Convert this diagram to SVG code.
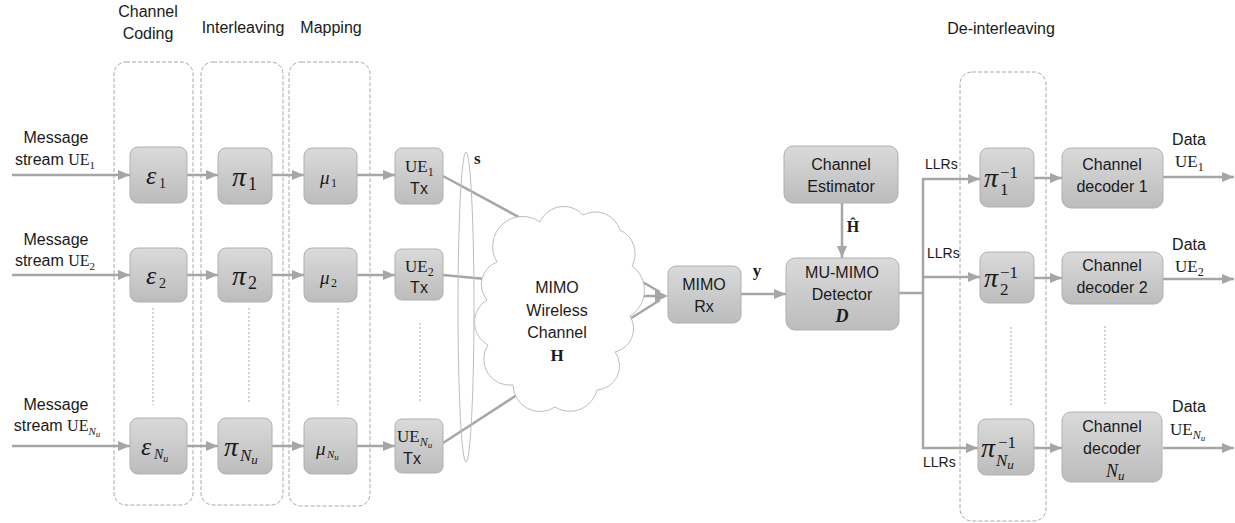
<svg xmlns="http://www.w3.org/2000/svg" width="1235" height="523" viewBox="0 0 1235 523">
  <defs>
    <linearGradient id="boxFill" x1="0" y1="0" x2="0" y2="1">
      <stop offset="0" stop-color="#dadada"/>
      <stop offset="1" stop-color="#bcbcbc"/>
    </linearGradient>
    <marker id="arrow" viewBox="0 0 12 10" refX="12" refY="5" markerWidth="12" markerHeight="10" markerUnits="userSpaceOnUse" orient="auto">
      <path d="M0,0 L12,5 L0,10 Z" fill="#a6a6a6"/>
    </marker>
  </defs>
  <style>
    .box { fill: url(#boxFill); stroke: #b0b0b0; stroke-width: 1; }
    .group { fill: none; stroke: #a8a8a8; stroke-width: 1; stroke-dasharray: 4 2; }
    .dots { stroke: #a8a8a8; stroke-width: 1; stroke-dasharray: 2 2; }
    .wire { fill: none; stroke: #a6a6a6; stroke-width: 2.5; }
    .arr { fill: none; stroke: #a6a6a6; stroke-width: 2.5; marker-end: url(#arrow); }
    .txt { font-family: "Liberation Sans", Arial, sans-serif; font-size: 16px; fill: #1a1a1a; text-anchor: middle; }
    .lbl { font-family: "Liberation Sans", Arial, sans-serif; font-size: 14px; fill: #1a1a1a; }
    .math { font-family: "Liberation Serif", "Times New Roman", serif; fill: #1a1a1a; }
    .it { font-style: italic; }
    .bf { font-weight: bold; }
  </style>

  <!-- stage headers -->
  <g id="headers" class="txt">
    <text x="148" y="17">Channel</text>
    <text x="148" y="39">Coding</text>
    <text x="243" y="33">Interleaving</text>
    <text x="331" y="33">Mapping</text>
    <text x="1001" y="34">De-interleaving</text>
  </g>

  <!-- dashed stage groups -->
  <g id="stage-coding"><rect class="group" x="114" y="62" width="79" height="443" rx="12"/></g>
  <g id="stage-interleaving"><rect class="group" x="201" y="62" width="82" height="443" rx="12"/></g>
  <g id="stage-mapping"><rect class="group" x="289" y="62" width="81" height="444" rx="12"/></g>
  <g id="stage-deinterleaving"><rect class="group" x="960" y="72" width="86" height="449" rx="12"/></g>

  <!-- ellipsis markers between rows -->
  <g id="ellipses">
    <line class="dots" x1="153" y1="308" x2="153" y2="405"/>
    <line class="dots" x1="249" y1="308" x2="249" y2="403"/>
    <line class="dots" x1="338" y1="308" x2="338" y2="405"/>
    <line class="dots" x1="420" y1="323" x2="420" y2="403"/>
    <line class="dots" x1="1011" y1="327" x2="1011" y2="405"/>
    <line class="dots" x1="1105" y1="326" x2="1105" y2="405"/>
  </g>

  <!-- connectors -->
  <g id="connectors">
    <!-- user inputs -->
    <line class="arr" x1="12" y1="175" x2="130" y2="175"/>
    <line class="arr" x1="12" y1="275" x2="130" y2="275"/>
    <line class="arr" x1="12" y1="446" x2="130" y2="446"/>
    <!-- encoder to interleaver -->
    <line class="arr" x1="187" y1="175" x2="218" y2="175"/>
    <line class="arr" x1="187" y1="275" x2="218" y2="275"/>
    <line class="arr" x1="187" y1="446" x2="218" y2="446"/>
    <!-- interleaver to mapper -->
    <line class="arr" x1="272" y1="175" x2="304" y2="175"/>
    <line class="arr" x1="272" y1="275" x2="304" y2="275"/>
    <line class="arr" x1="272" y1="446" x2="304" y2="446"/>
    <!-- mapper to transmitter -->
    <line class="arr" x1="357" y1="175" x2="395" y2="175"/>
    <line class="arr" x1="357" y1="275" x2="395" y2="275"/>
    <line class="arr" x1="357" y1="446" x2="395" y2="446"/>
    <!-- transmitters into channel -->
    <line class="wire" x1="443" y1="176" x2="539" y2="228"/>
    <line class="wire" x1="443" y1="275" x2="496" y2="280"/>
    <line class="wire" x1="443" y1="443" x2="520" y2="393"/>
    <!-- channel to receiver -->
    <line class="wire" x1="625" y1="272" x2="660" y2="292"/>
    <line class="wire" x1="625" y1="296" x2="660" y2="296"/>
    <line class="wire" x1="625" y1="322" x2="660" y2="300"/>
    <path d="M655,290 L668,296 L655,302 Z" fill="#a6a6a6"/>
    <!-- receiver to detector -->
    <line class="arr" x1="741" y1="294" x2="786" y2="294"/>
    <!-- channel estimate -->
    <line class="arr" x1="842" y1="203" x2="842" y2="258"/>
    <!-- detector LLR fan-out -->
    <polyline class="wire" points="899,293 923,293"/>
    <line class="wire" x1="923" y1="178" x2="923" y2="449"/>
    <line class="arr" x1="922" y1="179" x2="980" y2="179"/>
    <line class="arr" x1="922" y1="277" x2="980" y2="277"/>
    <line class="arr" x1="922" y1="448" x2="978" y2="448"/>
    <!-- de-interleaver to decoder -->
    <line class="arr" x1="1034" y1="178" x2="1062" y2="178"/>
    <line class="arr" x1="1034" y1="278" x2="1062" y2="278"/>
    <line class="arr" x1="1034" y1="448" x2="1062" y2="448"/>
    <!-- decoded outputs -->
    <line class="arr" x1="1163" y1="177" x2="1234" y2="177"/>
    <line class="arr" x1="1163" y1="279" x2="1234" y2="279"/>
    <line class="arr" x1="1163" y1="448" x2="1234" y2="448"/>
  </g>

  <!-- input labels -->
  <g id="inputs" class="txt">
    <text x="56" y="143">Message</text>
    <text x="55" y="165">stream <tspan class="math">UE</tspan><tspan class="math" font-size="11" dy="4">1</tspan></text>
    <text x="56" y="245">Message</text>
    <text x="55" y="266">stream <tspan class="math">UE</tspan><tspan class="math" font-size="11" dy="4">2</tspan></text>
    <text x="56" y="410">Message</text>
    <text x="57" y="431">stream <tspan class="math">UE</tspan><tspan class="math it" font-size="11" dy="4">N</tspan><tspan class="math it" font-size="9" dy="2">u</tspan></text>
  </g>

  <!-- channel encoders -->
  <g id="enc1"><rect class="box" x="130" y="147" width="57" height="56" rx="8"/>
    <text class="math it" x="146" y="184" font-size="26">ε</text><text class="math" x="159" y="188" font-size="14">1</text></g>
  <g id="enc2"><rect class="box" x="130" y="248" width="57" height="54" rx="8"/>
    <text class="math it" x="146" y="284" font-size="26">ε</text><text class="math" x="159" y="288" font-size="14">2</text></g>
  <g id="encN"><rect class="box" x="130" y="418" width="57" height="56" rx="8"/>
    <text class="math it" x="141" y="455" font-size="26">ε</text><text class="math it" x="154" y="459" font-size="14">N<tspan font-size="10" dy="3">u</tspan></text></g>

  <!-- interleavers -->
  <g id="int1"><rect class="box" x="218" y="148" width="54" height="56" rx="8"/>
    <text class="math it" x="232" y="186" font-size="28">π</text><text class="math" x="248" y="190" font-size="18">1</text></g>
  <g id="int2"><rect class="box" x="218" y="248" width="54" height="54" rx="8"/>
    <text class="math it" x="232" y="285" font-size="28">π</text><text class="math" x="248" y="289" font-size="18">2</text></g>
  <g id="intN"><rect class="box" x="218" y="418" width="54" height="56" rx="8"/>
    <text class="math it" x="224" y="456" font-size="28">π</text><text class="math it" x="240" y="461" font-size="17">N<tspan font-size="13" dy="3">u</tspan></text></g>

  <!-- symbol mappers -->
  <g id="map1"><rect class="box" x="304" y="148" width="53" height="56" rx="8"/>
    <text class="math it" x="320" y="184" font-size="19">μ</text><text class="math" x="331" y="187" font-size="12">1</text></g>
  <g id="map2"><rect class="box" x="304" y="248" width="53" height="54" rx="8"/>
    <text class="math it" x="320" y="284" font-size="19">μ</text><text class="math" x="331" y="287" font-size="12">2</text></g>
  <g id="mapN"><rect class="box" x="304" y="418" width="53" height="56" rx="8"/>
    <text class="math it" x="316" y="455" font-size="19">μ</text><text class="math it" x="327" y="458" font-size="11">N<tspan font-size="9" dy="2">u</tspan></text></g>

  <!-- transmitters -->
  <g id="tx1"><rect class="box" x="395" y="148" width="48" height="56" rx="7"/>
    <text class="math" x="405" y="172" font-size="17">UE<tspan font-size="12" dy="4">1</tspan></text>
    <text class="txt" x="419" y="194" font-size="15">Tx</text></g>
  <g id="tx2"><rect class="box" x="395" y="249" width="48" height="51" rx="7"/>
    <text class="math" x="405" y="272" font-size="17">UE<tspan font-size="12" dy="4">2</tspan></text>
    <text class="txt" x="419" y="293" font-size="15">Tx</text></g>
  <g id="txN"><rect class="box" x="395" y="419" width="48" height="54" rx="7"/>
    <text class="math" x="397" y="442" font-size="17">UE<tspan class="it" font-size="12" dy="4">N</tspan><tspan class="it" font-size="9" dy="2">u</tspan></text>
    <text class="txt" x="412" y="464" font-size="15">Tx</text></g>

  <!-- transmitted vector s -->
  <g id="svec">
    <ellipse cx="466" cy="307" rx="8" ry="155" fill="none" stroke="#bdbdbd" stroke-width="1"/>
    <text class="math bf" x="474" y="164" font-size="17">s</text>
  </g>

  <!-- MIMO wireless channel (cloud outline) -->
  <g id="channel">
    <path d="M497,262 A30,30 0 0 1 540,222 A26,26 0 0 1 583,215 A26,26 0 0 1 620,230 A26,26 0 0 1 632,266 A30,30 0 0 1 630,316 A24,24 0 0 1 615,352 A24,24 0 0 1 597,390 A28,28 0 0 1 555,407 A27,27 0 0 1 513,385 A26,26 0 0 1 488,345 A26,26 0 0 1 487,300 A24,24 0 0 1 497,262 Z" fill="#ffffff" stroke="#bdbdbd" stroke-width="1"/>
    <text class="txt" x="557" y="293">MIMO</text>
    <text class="txt" x="557" y="316">Wireless</text>
    <text class="txt" x="557" y="338">Channel</text>
    <text class="math bf" x="557" y="361" font-size="17" text-anchor="middle">H</text>
  </g>

  <!-- receiver -->
  <g id="rx"><rect class="box" x="668" y="266" width="73" height="57" rx="8"/>
    <text class="txt" x="704" y="290">MIMO</text>
    <text class="txt" x="704" y="312">Rx</text>
    <text class="math bf" x="757" y="276" font-size="17" text-anchor="middle">y</text></g>

  <!-- channel estimator -->
  <g id="estimator"><rect class="box" x="784" y="146" width="114" height="57" rx="9"/>
    <text class="txt" x="841" y="170">Channel</text>
    <text class="txt" x="841" y="192">Estimator</text>
    <text class="math bf" x="853" y="232" font-size="16" text-anchor="middle">Ĥ</text></g>

  <!-- MU-MIMO detector -->
  <g id="detector"><rect class="box" x="786" y="258" width="113" height="72" rx="9"/>
    <text class="txt" x="842" y="278">MU-MIMO</text>
    <text class="txt" x="842" y="300">Detector</text>
    <text class="math bf it" x="842" y="322" font-size="18" text-anchor="middle">D</text></g>

  <!-- LLR labels -->
  <g id="llr-labels" class="lbl">
    <text x="925" y="169">LLRs</text>
    <text x="927" y="258">LLRs</text>
    <text x="923" y="467">LLRs</text>
  </g>

  <!-- de-interleavers -->
  <g id="deint1"><rect class="box" x="980" y="148" width="54" height="59" rx="8"/>
    <text class="math it" x="984" y="187" font-size="28">π</text>
    <text class="math" x="1000" y="195" font-size="17">1</text>
    <text class="math" x="1000" y="178" font-size="17">−1</text></g>
  <g id="deint2"><rect class="box" x="980" y="252" width="54" height="51" rx="8"/>
    <text class="math it" x="984" y="287" font-size="28">π</text>
    <text class="math" x="1000" y="295" font-size="17">2</text>
    <text class="math" x="1000" y="278" font-size="17">−1</text></g>
  <g id="deintN"><rect class="box" x="978" y="419" width="56" height="56" rx="8"/>
    <text class="math it" x="981" y="457" font-size="28">π</text>
    <text class="math it" x="996" y="466" font-size="17">N<tspan font-size="13" dy="3">u</tspan></text>
    <text class="math" x="998" y="448" font-size="17">−1</text></g>

  <!-- channel decoders -->
  <g id="dec1"><rect class="box" x="1062" y="148" width="101" height="60" rx="9"/>
    <text class="txt" x="1112" y="170">Channel</text>
    <text class="txt" x="1112" y="192">decoder 1</text></g>
  <g id="dec2"><rect class="box" x="1062" y="252" width="101" height="52" rx="9"/>
    <text class="txt" x="1112" y="271">Channel</text>
    <text class="txt" x="1112" y="293">decoder 2</text></g>
  <g id="decN"><rect class="box" x="1062" y="412" width="100" height="70" rx="9"/>
    <text class="txt" x="1112" y="432">Channel</text>
    <text class="txt" x="1112" y="454">decoder</text>
    <text class="math it" x="1106" y="477" font-size="18">N<tspan font-size="13" dy="3">u</tspan></text></g>

  <!-- output labels -->
  <g id="outputs">
    <text class="txt" x="1189" y="145">Data</text>
    <text class="math" x="1175" y="167" font-size="17">UE<tspan font-size="12" dy="4">1</tspan></text>
    <text class="txt" x="1189" y="250">Data</text>
    <text class="math" x="1175" y="272" font-size="17">UE<tspan font-size="12" dy="4">2</tspan></text>
    <text class="txt" x="1189" y="412">Data</text>
    <text class="math" x="1170" y="435" font-size="17">UE<tspan class="it" font-size="12" dy="4">N</tspan><tspan class="it" font-size="9" dy="2">u</tspan></text>
  </g>
</svg>
